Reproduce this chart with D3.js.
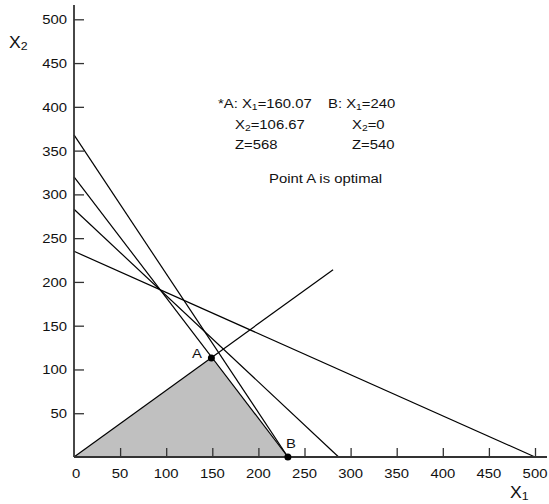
<!DOCTYPE html>
<html><head><meta charset="utf-8">
<script src="https://cdn.jsdelivr.net/npm/d3@7"></script>
<style>
html,body{margin:0;padding:0;background:#fff;}
svg{display:block;font-family:"Liberation Sans",Arial,Helvetica,sans-serif;}
</style></head>
<body>
<script>
// ---- data ----
const xTicks = [0, 50, 100, 150, 200, 250, 300, 350, 400, 450, 500];
const yTicks = [50, 100, 150, 200, 250, 300, 350, 400, 450, 500];
const lineYIntercepts = [368, 320, 283, 235];
const lineXIntercepts = [232, 232, 287, 500];
const rayStart = [0, 0];
const rayEnd = [281, 214];
const pointA = [149, 113];
const pointB = [232, 0];
const feasibleRegion = [[0, 0], pointA, pointB];
const infoLeft = [["*A: X", "1", "=160.07"], ["X", "2", "=106.67"], ["Z=568"]];
const infoRight = [["B: X", "1", "=240"], ["X", "2", "=0"], ["Z=540"]];
const note = "Point A is optimal";

const W = 549, H = 504;
const SX = 1.1; // horizontal stretch of the lettering in the reference
const svg = d3.select("body").append("svg").attr("width", W).attr("height", H);

const x = d3.scaleLinear().domain([0, 500]).range([74, 535]);
const y = d3.scaleLinear().domain([0, 500]).range([457, 19.3]);

// text helper: stretched horizontally, optional subscript parts
function label(parts, px, py, size, anchor) {
  const g = svg.append("g").attr("transform", `translate(${px},${py}) scale(${SX},1)`);
  const t = g.append("text").attr("x", 0).attr("y", 0).attr("font-size", size)
    .attr("fill", "#111").attr("text-anchor", anchor || "start");
  parts.forEach((p, i) => {
    if (i === 1) t.append("tspan").attr("font-size", size * 0.7).attr("dy", size * 0.15).text(p);
    else if (i === 2) t.append("tspan").attr("dy", -size * 0.15).text(p);
    else t.append("tspan").text(p);
  });
  return t;
}

// shaded feasible region
svg.append("path")
  .attr("d", d3.line().x(d => x(d[0])).y(d => y(d[1]))(feasibleRegion) + "Z")
  .attr("fill", "#c0c0c0").attr("stroke", "none");

// constraint lines
lineYIntercepts.forEach((b, i) => {
  svg.append("line")
    .attr("x1", x(0)).attr("y1", y(b))
    .attr("x2", x(lineXIntercepts[i])).attr("y2", y(0))
    .attr("stroke", "#000").attr("stroke-width", 1.2);
});
// ray from origin
svg.append("line")
  .attr("x1", x(rayStart[0])).attr("y1", y(rayStart[1]))
  .attr("x2", x(rayEnd[0])).attr("y2", y(rayEnd[1]))
  .attr("stroke", "#000").attr("stroke-width", 1.2);

// axes
const axisColor = "#333";
const xAxis = svg.append("g").attr("transform", `translate(0,${y(0)})`)
  .call(d3.axisTop(x).tickValues(xTicks.filter(d => d > 0)).tickSize(9).tickFormat(""));
xAxis.select(".domain").remove();
xAxis.selectAll("line").attr("stroke", axisColor).attr("stroke-width", 1.3);
svg.append("line").attr("x1", x(0)).attr("x2", 547).attr("y1", y(0)).attr("y2", y(0))
  .attr("stroke", axisColor).attr("stroke-width", 1.8);

const yAxis = svg.append("g").attr("transform", `translate(${x(0)},0)`)
  .call(d3.axisRight(y).tickValues(yTicks).tickSize(10).tickFormat(""));
yAxis.select(".domain").remove();
yAxis.selectAll("line").attr("stroke", axisColor).attr("stroke-width", 1.3);
svg.append("line").attr("x1", x(0)).attr("x2", x(0)).attr("y1", 5).attr("y2", y(0))
  .attr("stroke", axisColor).attr("stroke-width", 1.8);

// tick labels
xTicks.forEach(d => label([String(d)], x(d) + (d === 0 ? 2 : 0), 478, 13.5, "middle"));
yTicks.forEach(d => label([String(d)], 67, y(d) + 5, 13.5, "end"));

// axis titles
label(["X", "2"], 9, 48, 16);
label(["X", "1"], 510, 498, 16);

// info text block
const rowsY = [108, 129, 149];
infoLeft.forEach((parts, i) => label(parts, i === 0 ? 218 : 235, rowsY[i], 13.5));
infoRight.forEach((parts, i) => label(parts, i === 0 ? 328 : 352, rowsY[i], 13.5));
label([note], 269, 183, 13.5);

// points
[pointA, pointB].forEach(p => {
  svg.append("circle").attr("cx", x(p[0])).attr("cy", y(p[1])).attr("r", 3.5).attr("fill", "#000");
});
label(["A"], 192, 358, 13.5);
label(["B"], 286, 448, 13.5);
</script>
</body></html>
